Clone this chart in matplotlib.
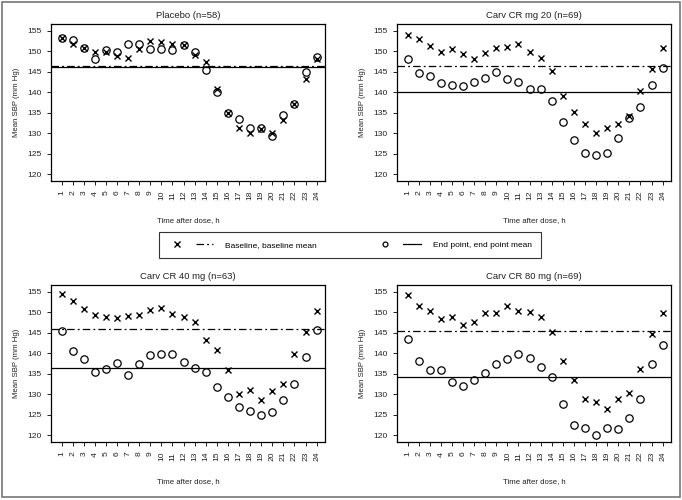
import numpy as np
import matplotlib
matplotlib.use("Agg")
import matplotlib.pyplot as plt
from matplotlib.lines import Line2D
from matplotlib.patches import Rectangle
from matplotlib.legend_handler import HandlerTuple

plt.rcParams['font.family'] = ['Liberation Sans', 'DejaVu Sans']

hours = list(range(1, 25))

titles = ["Placebo (n=58)", "Carv CR mg 20 (n=69)",
          "Carv CR 40 mg (n=63)", "Carv CR 80 mg (n=69)"]

# baseline values (crosses)
base_placebo = [153.2, 151.7, 150.8, 149.7, 149.9, 148.8, 148.4, 150.5, 152.4, 152.3, 151.8, 151.6,
                149.1, 147.3, 140.9, 134.9, 131.4, 130.0, 131.0, 130.1, 133.2, 137.1, 143.2, 148.0]
base_20 = [154.0, 153.0, 151.3, 149.8, 150.6, 149.4, 148.2, 149.6, 150.8, 151.1, 151.7, 149.9,
           148.4, 145.1, 139.0, 135.2, 132.3, 130.0, 131.3, 132.3, 134.2, 140.4, 145.7, 150.8]
base_40 = [154.3, 152.7, 150.7, 149.4, 148.9, 148.6, 149.1, 149.3, 150.5, 150.9, 149.5, 148.9,
           147.5, 143.3, 140.7, 135.9, 130.1, 131.0, 128.5, 130.8, 132.4, 139.9, 145.2, 150.3]
base_80 = [154.2, 151.4, 150.3, 148.4, 148.7, 146.8, 147.5, 149.8, 149.8, 151.4, 150.3, 150.1,
           148.8, 145.2, 138.1, 133.4, 128.9, 128.2, 126.5, 128.8, 130.4, 136.2, 144.7, 149.9]

# end point values (circles)
end_placebo = [153.2, 152.6, 150.8, 148.0, 150.3, 149.7, 151.8, 151.8, 150.5, 150.5, 150.2, 151.6,
               149.8, 145.3, 140.0, 134.9, 133.5, 131.2, 131.4, 129.4, 134.4, 137.1, 144.8, 148.6]
end_20 = [148.0, 144.6, 143.9, 142.3, 141.8, 141.5, 142.5, 143.4, 144.8, 143.1, 142.6, 140.7,
          140.7, 137.8, 132.7, 128.4, 125.3, 124.7, 125.2, 128.9, 133.7, 136.4, 141.7, 146.0]
end_40 = [145.4, 140.5, 138.5, 135.5, 136.2, 137.7, 134.8, 137.4, 139.5, 139.9, 139.9, 137.8,
          136.3, 135.4, 131.8, 129.4, 126.8, 126.0, 124.9, 125.6, 128.5, 132.6, 139.1, 145.7]
end_80 = [143.5, 138.2, 136.0, 136.0, 132.9, 132.1, 133.4, 135.2, 137.4, 138.6, 139.8, 138.8,
          136.7, 134.2, 127.7, 122.6, 121.9, 120.2, 121.7, 121.5, 124.2, 128.9, 137.4, 142.0]

base_means = [146.3, 146.4, 145.9, 145.3]
end_means = [146.2, 140.0, 136.5, 134.2]

baselines = [base_placebo, base_20, base_40, base_80]
endpoints = [end_placebo, end_20, end_40, end_80]

W, H = 682, 500
fig = plt.figure(figsize=(W / 100, H / 100), dpi=100)

# axes boxes in pixels: left, top, right, bottom
boxes = [(51, 24, 325, 181), (397, 24, 671, 181),
         (51, 285, 325, 442), (397, 285, 671, 442)]

txt = '#222222'
dashdot = (0, (6, 2.5, 1.5, 2.5))
for i in range(4):
    l, t, r, b = boxes[i]
    ax = fig.add_axes([l / W, 1 - b / H, (r - l) / W, (b - t) / H])
    ax.plot(hours, baselines[i], ls='none', marker='x', ms=4, mew=1.0, color='black')
    ax.plot(hours, endpoints[i], ls='none', marker='o', ms=5.3, mew=0.9,
            mfc='none', mec='black')
    ax.axhline(base_means[i], color='black', lw=0.9, ls=dashdot)
    ax.axhline(end_means[i], color='black', lw=0.9)
    ax.set_xlim(0.05, 24.75)
    ax.set_ylim(118.4, 156.6)
    ax.set_xticks(hours)
    ax.set_xticklabels([str(h) for h in hours], rotation=90)
    ax.set_yticks(np.arange(120, 156, 5))
    ax.tick_params(labelsize=6.1, length=3, width=0.7, pad=4, colors=txt)
    ax.set_title(titles[i], fontsize=6.8, pad=4, color=txt)
    ax.set_xlabel("Time after dose, h", fontsize=5.6, labelpad=12, color=txt)
    ax.set_ylabel("Mean SBP (mm Hg)", fontsize=5.6, labelpad=5, color=txt)
    for s in ax.spines.values():
        s.set_linewidth(0.9)

h_base = (Line2D([], [], ls='none', marker='x', ms=4, mew=1.0, color='black'),
          Line2D([], [], color='black', lw=0.9, ls=dashdot))
h_end = (Line2D([], [], ls='none', marker='o', ms=3.5, mew=0.9, mfc='none', mec='black'),
         Line2D([], [], color='black', lw=0.9))
leg = fig.legend([h_base, h_end], ["Baseline, baseline mean", "End point, end point mean"],
                 handler_map={tuple: HandlerTuple(ndivide=None, pad=1.2)},
                 loc='center', bbox_to_anchor=(350 / W, 1 - 245 / H), ncol=2,
                 fontsize=6.0, frameon=True, fancybox=False, handlelength=5.4,
                 columnspacing=7.1, handletextpad=1.4, borderpad=1.1)
leg.get_frame().set_edgecolor('black')
leg.get_frame().set_linewidth(0.8)

fig.patches.append(Rectangle((1.5 / W, 3.5 / H), 678 / W, 495 / H, transform=fig.transFigure,
                             fill=False, edgecolor='#777777', lw=1.2))

fig.savefig("out.png", dpi=100)
